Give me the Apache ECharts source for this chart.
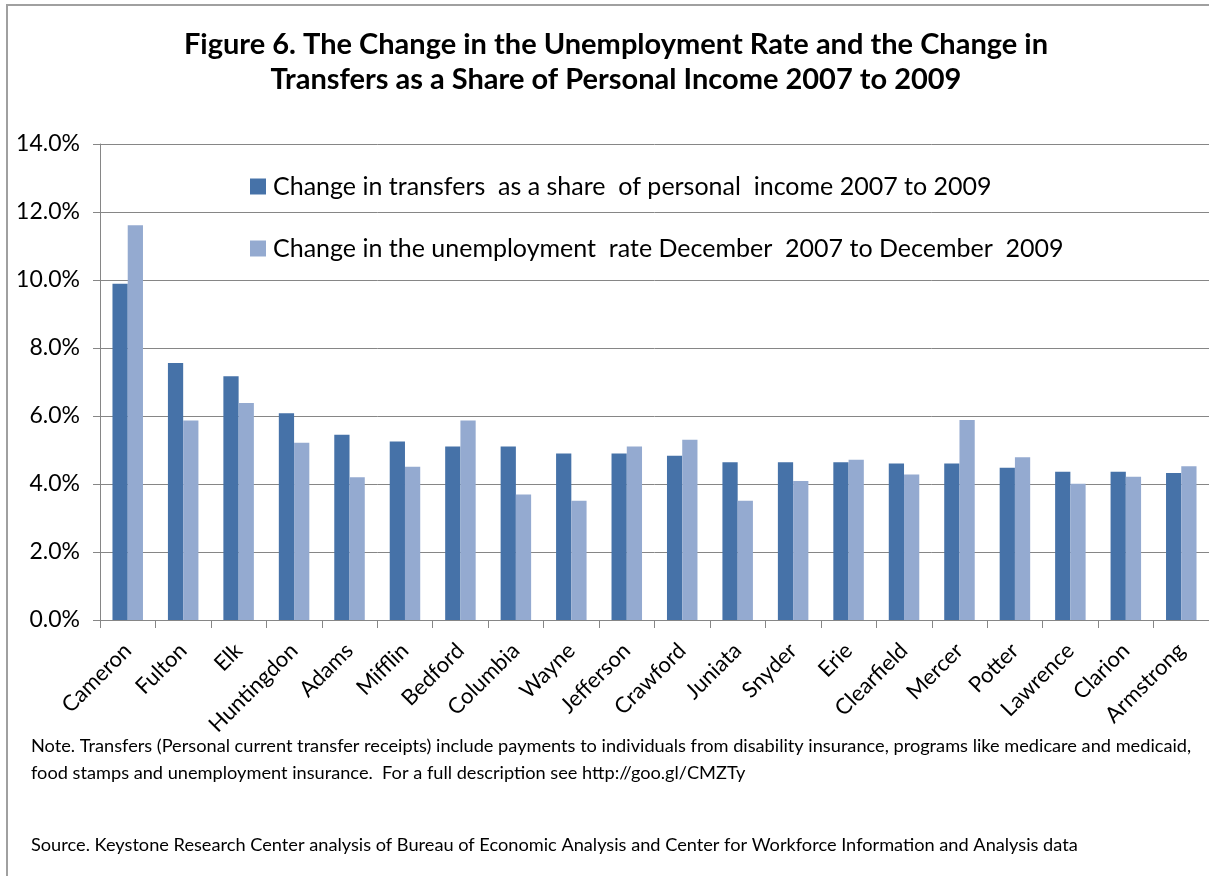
<!DOCTYPE html>
<html>
<head>
<meta charset="utf-8">
<script src="https://cdn.jsdelivr.net/npm/echarts@6/dist/echarts.min.js"></script>
<style>
html,body{margin:0;padding:0;background:#fff;}
#c{width:1209px;height:876px;}
</style>
</head>
<body>
<div id="c"></div>
<script>
const categories = ['Cameron','Fulton','Elk','Huntingdon','Adams','Mifflin','Bedford','Columbia','Wayne','Jefferson','Crawford','Juniata','Snyder','Erie','Clearfield','Mercer','Potter','Lawrence','Clarion','Armstrong'];
const transfers = [9.89, 7.56, 7.17, 6.08, 5.45, 5.25, 5.10, 5.10, 4.90, 4.90, 4.83, 4.64, 4.64, 4.64, 4.60, 4.60, 4.48, 4.36, 4.36, 4.32];
const unemployment = [11.61, 5.87, 6.38, 5.21, 4.20, 4.51, 5.87, 3.69, 3.51, 5.10, 5.30, 3.51, 4.09, 4.71, 4.28, 5.88, 4.79, 4.01, 4.21, 4.52];
const seriesNames = ['Change in transfers  as a share  of personal  income 2007 to 2009', 'Change in the unemployment  rate December  2007 to December  2009'];
const titleLines = 'Figure 6. The Change in the Unemployment Rate and the Change in\nTransfers as a Share of Personal Income 2007 to 2009';
const noteLines = ['Note. Transfers (Personal current transfer receipts) include payments to individuals from disability insurance, programs like medicare and medicaid,', 'food stamps and unemployment insurance.  For a full description see http://goo.gl/CMZTy'];
const sourceLine = 'Source. Keystone Research Center analysis of Bureau of Economic Analysis and Center for Workforce Information and Analysis data';

const FONT = 'Lato';
const chart = echarts.init(document.getElementById('c'));
chart.setOption({
  animation: false,
  backgroundColor: '#fff',
  title: {
    text: titleLines,
    left: 611, textAlign: 'center', top: 22,
    textStyle: {fontFamily: FONT, fontWeight: 'bold', fontSize: 29, lineHeight: 35, color: '#000'}
  },
  legend: {
    orient: 'vertical', left: 245, top: 169, itemGap: 37,
    itemWidth: 16, itemHeight: 16, icon: 'rect',
    textStyle: {fontFamily: FONT, fontSize: 25, color: '#000', padding: [0,0,0,2]}
  },
  grid: {left: 100, top: 144, width: 1133, height: 476, containLabel: false},
  xAxis: {
    type: 'category', data: categories,
    axisLine: {lineStyle: {color: '#868686', width: 1}},
    axisTick: {show: true, length: 8, lineStyle: {color: '#868686'}},
    axisLabel: {rotate: 45, margin: 27, fontFamily: FONT, fontSize: 22, color: '#000', interval: 0}
  },
  yAxis: {
    type: 'value', min: 0, max: 14, interval: 2,
    axisLine: {show: true, lineStyle: {color: '#868686'}},
    axisTick: {show: true, length: 7, lineStyle: {color: '#868686'}},
    splitLine: {lineStyle: {color: '#868686', width: 1}},
    axisLabel: {margin: 20, fontFamily: FONT, fontSize: 23, color: '#000', formatter: v => v.toFixed(1) + '%'}
  },
  series: [
    {name: seriesNames[0], type: 'bar', data: transfers, barGap: '0%', barCategoryGap: '45%', itemStyle: {color: '#4672A8'}},
    {name: seriesNames[1], type: 'bar', data: unemployment, barGap: '0%', barCategoryGap: '45%', itemStyle: {color: '#94AAD0'}}
  ],
  graphic: [
    {type: 'rect', shape: {x: 7, y: 5, width: 1240, height: 900}, style: {fill: 'none', stroke: '#a0a0a0', lineWidth: 2}, silent: true, z: -1},
    {type: 'text', left: 31, top: 737, style: {text: noteLines[0], font: '18.2px ' + FONT, fill: '#000'}},
    {type: 'text', left: 31, top: 764, style: {text: noteLines[1], font: '18.2px ' + FONT, fill: '#000'}},
    {type: 'text', left: 31, top: 836, style: {text: sourceLine, font: '18.2px ' + FONT, fill: '#000'}}
  ]
});
</script>
</body>
</html>
